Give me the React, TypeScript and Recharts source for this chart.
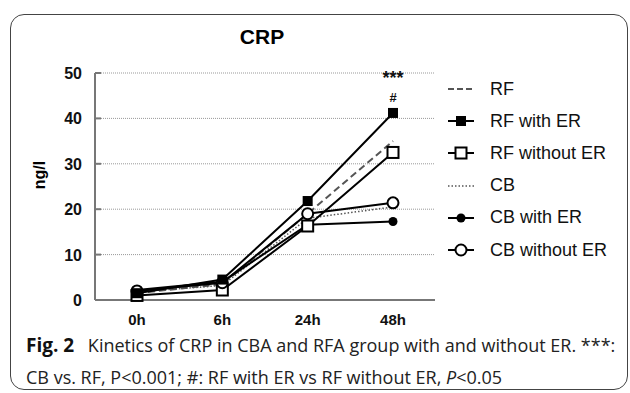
import React from 'react';
import { LineChart, Line, XAxis, YAxis, CartesianGrid, LabelList } from 'recharts';

const times = ['0h', '6h', '24h', '48h'];
const rf = [1.5, 3.5, 19, 35];
const rfWithEr = [1.5, 4.5, 21.8, 41.2];
const rfWithoutEr = [1.0, 2.2, 16.3, 32.5];
const cb = [1.8, 3.2, 18, 20.5];
const cbWithEr = [2.2, 4.0, 16.6, 17.3];
const cbWithoutEr = [2.0, 3.8, 19, 21.4];
const yTicks = [0, 10, 20, 30, 40, 50];

const data = times.map((t, i) => ({
  time: t,
  rf: rf[i],
  rfWithEr: rfWithEr[i],
  rfWithoutEr: rfWithoutEr[i],
  cb: cb[i],
  cbWithEr: cbWithEr[i],
  cbWithoutEr: cbWithoutEr[i],
}));

const FONT = "'Liberation Sans', Arial, sans-serif";

const legendItems = [
  { label: 'RF', kind: 'dash' },
  { label: 'RF with ER', kind: 'fsq' },
  { label: 'RF without ER', kind: 'osq' },
  { label: 'CB', kind: 'dot' },
  { label: 'CB with ER', kind: 'fci' },
  { label: 'CB without ER', kind: 'oci' },
];

const FilledSquare = (p: any) => (
  <rect x={p.cx - 5} y={p.cy - 5} width={10} height={10} fill="#000" />
);
const OpenSquare = (p: any) => (
  <rect x={p.cx - 5.5} y={p.cy - 5.5} width={11} height={11} fill="#fff" stroke="#000" strokeWidth={2} />
);
const FilledCircle = (p: any) => <circle cx={p.cx} cy={p.cy} r={4.5} fill="#000" />;
const OpenCircle = (p: any) => (
  <circle cx={p.cx} cy={p.cy} r={5.5} fill="#fff" stroke="#000" strokeWidth={2} />
);

function Symbol({ kind }: { kind: string }) {
  const cy = 10;
  if (kind === 'dash')
    return <line x1={2} x2={28} y1={cy} y2={cy} stroke="#555" strokeWidth={2} strokeDasharray="6 3" />;
  if (kind === 'dot')
    return <line x1={2} x2={28} y1={cy} y2={cy} stroke="#555" strokeWidth={1.5} strokeDasharray="1.5 2" />;
  const line = <line x1={2} x2={28} y1={cy} y2={cy} stroke="#000" strokeWidth={2} />;
  let m: any = null;
  if (kind === 'fsq') m = <FilledSquare cx={15} cy={cy} />;
  if (kind === 'osq') m = <OpenSquare cx={15} cy={cy} />;
  if (kind === 'fci') m = <FilledCircle cx={15} cy={cy} />;
  if (kind === 'oci') m = <OpenCircle cx={15} cy={cy} />;
  return (
    <>
      {line}
      {m}
    </>
  );
}

// significance marks above the last RF-with-ER point
const sigLabel = (props: any) => {
  const { x, y, index } = props;
  if (index !== 3) return null;
  return (
    <g fontFamily={FONT} fontWeight="bold" textAnchor="middle" fill="#111">
      <text x={x} y={y - 29} fontSize={18}>***</text>
      <text x={x} y={y - 11} fontSize={13}>#</text>
    </g>
  );
};

const YTick = (props: any) => {
  const { x, y, payload } = props;
  return (
    <g>
      <line x1={x} x2={x + 6} y1={y} y2={y} stroke="#777" strokeWidth={2} />
      <text x={x - 13} y={y} dy={6} textAnchor="end" fontFamily={FONT} fontWeight="bold" fontSize={16} fill="#111">
        {payload.value}
      </text>
    </g>
  );
};

export default function App() {
  return (
    <div style={{ position: 'absolute', left: 0, top: 0, width: 630, height: 393, background: '#fff', overflow: 'hidden' }}>
      <div
        style={{
          position: 'absolute',
          left: 10,
          top: 14,
          width: 618,
          height: 376,
          border: '1.5px solid #444',
          borderRadius: 14,
          boxSizing: 'border-box',
        }}
      />
      <div
        style={{
          position: 'absolute',
          left: 212,
          top: 25,
          width: 100,
          textAlign: 'center',
          fontFamily: FONT,
          fontWeight: 'bold',
          fontSize: 21,
        }}
      >
        CRP
      </div>
      <div
        style={{
          position: 'absolute',
          left: 40,
          top: 175,
          transform: 'translate(-50%, -50%) rotate(-90deg)',
          fontFamily: FONT,
          fontWeight: 'bold',
          fontSize: 16,
        }}
      >
        ng/l
      </div>
      <div style={{ position: 'absolute', left: 0, top: 0 }}>
        <LineChart width={630} height={330} data={data} margin={{ top: 73, right: 195, left: 0, bottom: 0 }}>
          <CartesianGrid vertical={false} stroke="#999" strokeDasharray="1 1" />
          <XAxis
            dataKey="time"
            height={30}
            padding={{ left: 42, right: 42 }}
            tickLine={false}
            axisLine={{ stroke: '#777', strokeWidth: 2 }}
            tick={{ fontFamily: FONT, fontWeight: 'bold', fontSize: 15, fill: '#111' }}
            tickMargin={8}
          />
          <YAxis
            width={95}
            domain={[0, 50]}
            ticks={yTicks}
            interval={0}
            axisLine={{ stroke: '#777', strokeWidth: 2 }}
            tickLine={false}
            tickSize={0}
            tickMargin={0}
            tick={<YTick />}
          />
          <Line dataKey="cb" stroke="#555" strokeWidth={1.5} strokeDasharray="1.5 2" dot={false} isAnimationActive={false} />
          <Line dataKey="rf" stroke="#555" strokeWidth={2} strokeDasharray="7 4" dot={false} isAnimationActive={false} />
          <Line dataKey="cbWithEr" stroke="#000" strokeWidth={2} dot={<FilledCircle />} isAnimationActive={false} />
          <Line dataKey="rfWithoutEr" stroke="#000" strokeWidth={2} dot={<OpenSquare />} isAnimationActive={false} />
          <Line dataKey="cbWithoutEr" stroke="#000" strokeWidth={2} dot={<OpenCircle />} isAnimationActive={false} />
          <Line dataKey="rfWithEr" stroke="#000" strokeWidth={2} dot={<FilledSquare />} isAnimationActive={false}>
            <LabelList content={sigLabel} />
          </Line>
        </LineChart>
      </div>
      <div style={{ position: 'absolute', left: 446, top: 73, fontFamily: FONT }}>
        {legendItems.map((it) => (
          <div key={it.label} style={{ display: 'flex', alignItems: 'center', height: 32.2 }}>
            <svg width={32} height={20}>
              <Symbol kind={it.kind} />
            </svg>
            <span style={{ marginLeft: 12, fontSize: 18, color: '#111' }}>{it.label}</span>
          </div>
        ))}
      </div>
      <div
        style={{
          position: 'absolute',
          left: 26,
          top: 329,
          fontFamily: "'Open Sans', sans-serif",
          fontSize: 18,
          lineHeight: '32px',
          color: '#222',
          whiteSpace: 'nowrap',
        }}
      >
        <div>
          <b style={{ fontWeight: 700, fontSize: 19, color: '#111' }}>Fig. 2</b>
          {'\u2002 Kinetics of CRP in CBA and RFA group with and without ER. ***:'}
        </div>
        <div>
          {'CB vs. RF, P<0.001; #: RF with ER vs RF without ER, '}
          <i>P</i>
          {'<0.05'}
        </div>
      </div>
    </div>
  );
}
